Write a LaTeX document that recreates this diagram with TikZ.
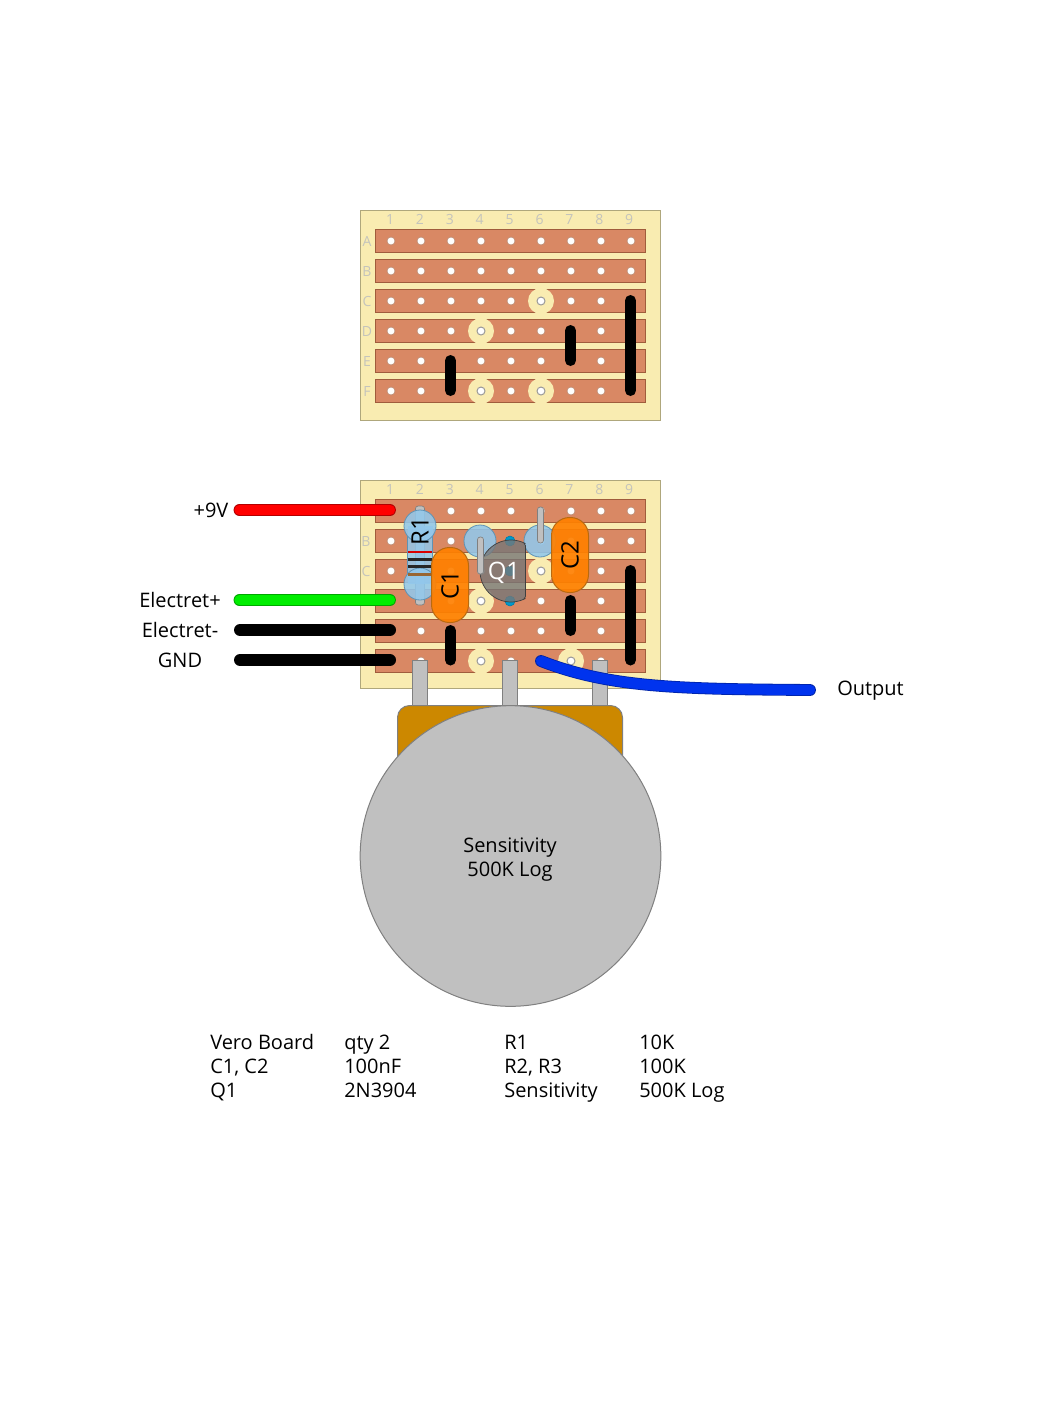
\documentclass[tikz,border=0pt]{standalone}
\usepackage{fontspec}
\setmainfont{Open Sans}
\usetikzlibrary{calc}
\definecolor{board}{HTML}{F9ECB1}
\definecolor{boardedge}{HTML}{AFA77C}
\definecolor{strip}{HTML}{D98864}
\definecolor{stripedge}{HTML}{A05C3C}
\definecolor{gridtxt}{HTML}{C4C4BC}
\definecolor{potback}{HTML}{CC8800}
\definecolor{potgrey}{HTML}{C0C0C0}
\definecolor{potedge}{HTML}{808080}
\definecolor{capfill}{HTML}{FF8000}
\definecolor{capedge}{HTML}{B86A10}
\definecolor{resblue}{HTML}{92C8EC}
\definecolor{resedge}{HTML}{5F93B5}
\definecolor{dotblue}{HTML}{0099CC}
\definecolor{wirered}{HTML}{FF0000}
\definecolor{wiregreen}{HTML}{00EE00}
\definecolor{wireblue}{HTML}{0033EE}
\definecolor{transgrey}{HTML}{777777}
\tikzset{
  x=0.75pt,y=-0.75pt,
  boardbox/.style={draw=boardedge,fill=board,line width=0.75pt},
  stripbox/.style={draw=stripedge,fill=strip,line width=0.75pt},
  hole/.style={circle,draw=stripedge!70,fill=white,inner sep=0pt,minimum size=6pt,line width=0.5pt},
  cuthole/.style={circle,draw=gray!80,fill=white,inner sep=0pt,minimum size=6pt,line width=0.75pt},
  cutring/.style={circle,fill=board,inner sep=0pt,minimum size=19.5pt},
  gridlabel/.style={text=gridtxt,font=\fontsize{10.5}{12}\selectfont,inner sep=0pt},
  link/.style={line width=8.25pt,line cap=round,black},
  wire/.style={draw=#1,line width=7.7pt,line cap=round,preaction={draw=#1!70!black,line width=8.9pt,line cap=round}},
  blackwire/.style={draw=black,line width=9pt,line cap=round},
  label/.style={font=\fontsize{15}{18}\selectfont,inner sep=0pt,text=black},
  partlabel/.style={font=\fontsize{18}{20}\selectfont,inner sep=0pt,text=black},
  bom/.style={font=\fontsize{15}{18}\selectfont,inner sep=0pt,text=black,anchor=base west},
  pin/.style={draw=potedge,fill=potgrey,line width=0.75pt},
  capbody/.style={draw=capedge,fill=capfill,fill opacity=0.92,draw opacity=1,line width=0.75pt,rounded corners=13.5pt},
  resbody/.style={fill=resblue,fill opacity=0.85},
  bluepad/.style={circle,draw=resedge,fill=resblue,fill opacity=.88,inner sep=0pt,minimum size=24pt,line width=0.6pt},
  lead/.style={draw=potedge,fill=potgrey,line width=0.5pt,rounded corners=2pt},
  basedot/.style={circle,draw=dotblue!80!black,fill=dotblue,inner sep=0pt,minimum size=7.5pt,line width=0.4pt},
}
\newcommand{\stripboard}[3]{% top of board, bottom of board, first row y
  \path[boardbox] (360.5,#1) rectangle (660.5,#2);
  \foreach \r in {0,...,5}{
    \path[stripbox] (375.5,{#3+30*\r-11.5}) rectangle (645.5,{#3+30*\r+11.5});
  }
  \foreach \c in {0,...,8}{
    \foreach \r in {0,...,5}{
      \node[hole] at ({391+30*\c},{#3+30*\r}) {};
    }
    \pgfmathtruncatemacro{\n}{\c+1}
    \node[gridlabel] at ({390+29.9*\c},{#1+9}) {\n};
  }
}
\newcommand{\cutat}[2]{%
  \node[cutring] at (#1,#2) {};
  \node[cuthole] at (#1,#2) {};
}
\begin{document}
\begin{tikzpicture}
\useasboundingbox (0,0) rectangle (1062,1415);
% top board
\stripboard{210.5}{420.5}{241}
\foreach \l/\y in {A/241,B/271,C/301,D/331,E/361,F/391}{
  \node[gridlabel] (row\l) at (367,\y) {\l};
}
\cutat{541}{301}\cutat{481}{331}\cutat{481}{391}\cutat{541}{391}
\coordinate (ta) at (630.5,300.5); \coordinate (tb) at (630.5,390.5);
\coordinate (tc) at (570.5,330.5); \coordinate (td) at (570.5,360.5);
\coordinate (te) at (450.5,360.5); \coordinate (tf) at (450.5,390.5);
\draw[link] (ta) -- (tb);
\draw[link] (tc) -- (td);
\draw[link] (te) -- (tf);
% bottom board
\stripboard{480.5}{688.5}{511}
\foreach \l/\y in {B/541,C/571}{
  \node[gridlabel] (low\l) at (366,\y) {\l};
}
\cutat{541}{571}\cutat{481}{601}\cutat{481}{661}\cutat{571}{661}
\coordinate (la) at (630.5,570.5); \coordinate (lb) at (630.5,660);
\coordinate (lc) at (570.5,600.5); \coordinate (ld) at (570.5,630.5);
\coordinate (le) at (450.5,630.5); \coordinate (lf) at (450.5,660);
\draw[link] (la) -- (lb);
\draw[link] (lc) -- (ld);
\draw[link] (le) -- (lf);
% R1
\path[lead] (415.5,506) rectangle (424.5,605);
\path[resbody] (407.5,526) rectangle (432.5,584);
\draw[resedge,line width=0.6pt] (407.5,536) -- (407.5,574) (432.5,536) -- (432.5,574);
\node[bluepad] (r1a) at (420,526) {};
\node[bluepad] (r1b) at (420,584) {};
\fill[red!85!black] (408,550.5) rectangle (432,553);
\fill[black!85] (408,557.5) rectangle (432,561);
\fill[black!85] (408,565) rectangle (432,567.5);
\fill[brown!80!black] (408,572.5) rectangle (432,575.5);
\node[rotate=90,partlabel] (R1) at (420,531) {R1};
% C1
\path[capbody] (431.5,547.5) rectangle (468.5,622.5);
\node[rotate=90,partlabel] (C1) at (450,585) {C1};
% Q1
\node[basedot] (qa) at (510,541) {};
\node[basedot] (qb) at (510,571) {};
\node[basedot] (qc) at (510,601) {};
\node[bluepad] (pa) at (480,541) {};
\node[bluepad] (pb) at (540,541) {};
\path[draw=black!50!gray,fill=transgrey,fill opacity=.8,line width=.5pt,rounded corners=1.5pt]
  plot[domain=62:298,samples=60] ({511+31*cos(\x)},{571+31*sin(\x)}) -- cycle;
\path[lead] (477.5,537) rectangle (483.5,574);
\path[lead] (537.5,507) rectangle (543.5,543);
\node[partlabel,text=white] (Q1) at (504,572.5) {Q1};
% C2
\path[capbody] (551.5,517.5) rectangle (588.5,592.5);
\node[rotate=90,partlabel] (C2) at (570,555) {C2};
% wires
\coordinate (w9a) at (239.5,510); \coordinate (w9b) at (390,510);
\coordinate (wea) at (239.5,600); \coordinate (web) at (390,600);
\coordinate (wma) at (240,630); \coordinate (wmb) at (390,630);
\coordinate (wga) at (240,660); \coordinate (wgb) at (390,660);
\coordinate (woa) at (541,661); \coordinate (wob) at (810,690);
\draw[wire=wirered] (w9a) -- (w9b);
\draw[wire=wiregreen] (wea) -- (web);
\draw[blackwire] (wma) -- (wmb);
\draw[blackwire] (wga) -- (wgb);
% pot
\path[pin] (412.5,660.5) rectangle (427.5,710);
\path[pin] (502.5,660.5) rectangle (517.5,710);
\path[pin] (592.5,660.5) rectangle (607.5,710);
\path[draw=potedge,fill=potback,line width=.75pt,rounded corners=9pt] (397.5,705.5) rectangle (622.5,800);
\draw[wire=wireblue] (woa) .. controls (610,688) and (680,689) .. (wob);
\node[circle,draw=potedge,fill=potgrey,line width=.75pt,inner sep=0pt,minimum size=225.5pt] (pot) at (510.5,856) {};
\node[label,align=center] (potlabel) at (510,860) {Sensitivity\\500K Log};
% labels
\node[label,anchor=base] (l9) at (211,517) {+9V};
\node[label,anchor=base] (le1) at (180,607.5) {Electret+};
\node[label,anchor=base] (le2) at (180,637.5) {Electret-};
\node[label,anchor=base] (lg) at (180,667.5) {GND};
\node[label,anchor=base west] (lo) at (837,695.5) {Output};
% parts list
\node[bom] (b1) at (210,1049) {Vero Board};
\node[bom] (b2) at (210,1073) {C1, C2};
\node[bom] (b3) at (210,1097) {Q1};
\node[bom] (b4) at (344,1049) {qty 2};
\node[bom] (b5) at (344,1073) {100nF};
\node[bom] (b6) at (344,1097) {2N3904};
\node[bom] (b7) at (504,1049) {R1};
\node[bom] (b8) at (504,1073) {R2, R3};
\node[bom] (b9) at (504,1097) {Sensitivity};
\node[bom] (b10) at (639,1049) {10K};
\node[bom] (b11) at (639,1073) {100K};
\node[bom] (b12) at (639,1097) {500K Log};
\end{tikzpicture}
\end{document}
